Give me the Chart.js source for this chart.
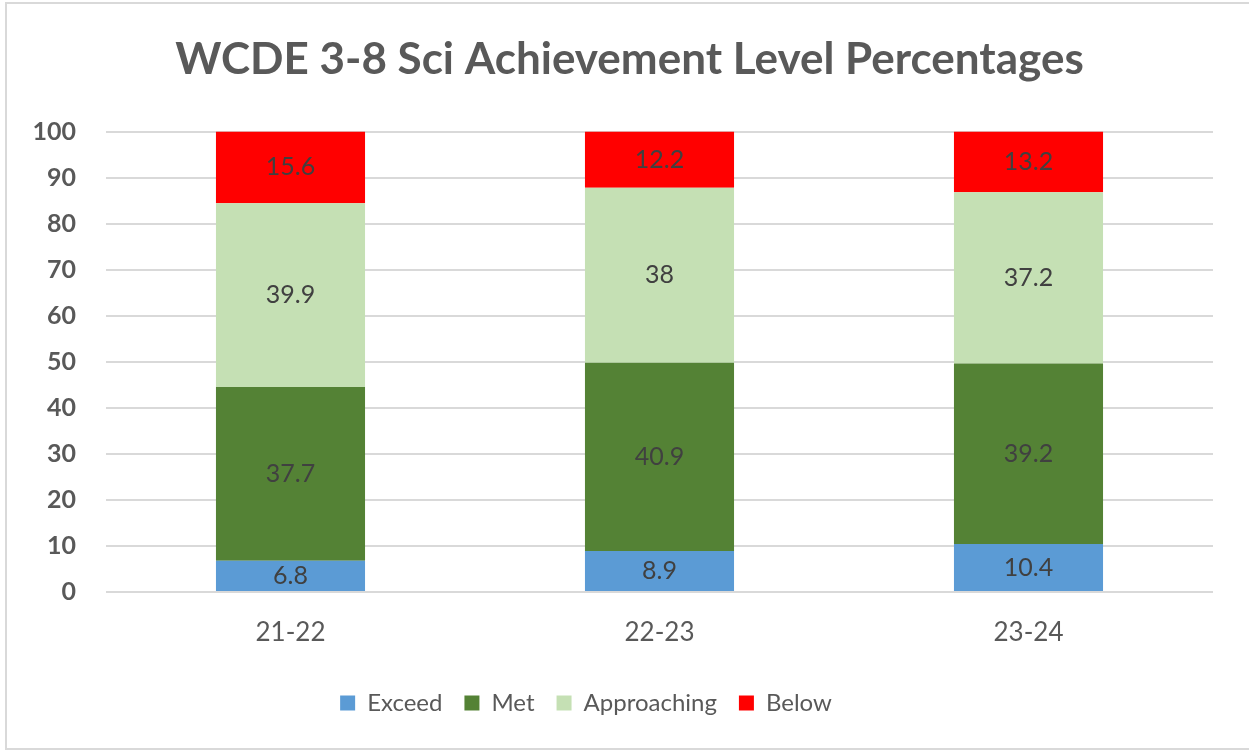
<!DOCTYPE html>
<html>
<head>
<meta charset="utf-8">
<script src="https://cdn.jsdelivr.net/npm/chart.js@4.4.1/dist/chart.umd.min.js"></script>
<style>
  html, body { margin: 0; padding: 0; background: #fff; }
  #frame { position: absolute; left: 5px; top: 2px; width: 1250px; height: 744px; border: 2px solid #d9d9d9; }
  #wrap { position: absolute; left: 0; top: 0; width: 1249px; height: 750px; }
</style>
</head>
<body>
<div id="frame"></div>
<div id="wrap"><canvas id="myChart"></canvas></div>
<script>
const years = ['21-22', '22-23', '23-24'];
const exceed = [6.8, 8.9, 10.4];
const met = [37.7, 40.9, 39.2];
const approaching = [39.9, 38, 37.2];
const below = [15.6, 12.2, 13.2];
const yTicks = [0, 10, 20, 30, 40, 50, 60, 70, 80, 90, 100];

const FONT = 'Lato, "Open Sans", sans-serif';
const TITLE = 'WCDE 3-8 Sci Achievement Level Percentages';

// pick the title size so it spans about as wide as the original
const mctx = document.createElement('canvas').getContext('2d');
mctx.font = 'bold 100px ' + FONT;
let titleSize = Math.round(100 * 903 / mctx.measureText(TITLE).width);
if (!isFinite(titleSize) || titleSize < 20) titleSize = 42;

// value in the middle of each bar segment
const segLabels = {
    id: 'segLabels',
    afterDatasetsDraw(chart){
        const ctx = chart.ctx;
        ctx.save();
        ctx.font = '25px ' + FONT;
        ctx.fillStyle = '#404040';
        ctx.textAlign = 'center';
        ctx.textBaseline = 'middle';
        chart.data.datasets.forEach((ds, i) => {
            const meta = chart.getDatasetMeta(i);
            meta.data.forEach((bar, j) => {
                ctx.fillText(String(ds.data[j]), bar.x, (bar.y + bar.base) / 2);
            });
        });
        ctx.restore();
    }
};

// title and legend are not centred on the same line in the original
const shiftBlocks = {
    id: 'shiftBlocks',
    afterLayout(chart){
        if (chart.titleBlock) chart.titleBlock.left = 46;
        if (chart.legend) { chart.legend.left = 0; chart.legend.right = 1172; }
    }
};

new Chart(document.getElementById('myChart'), {
    type: 'bar',
    data: {
        labels: years,
        datasets: [
            { label: 'Exceed', data: exceed, backgroundColor: '#5b9bd5' },
            { label: 'Met', data: met, backgroundColor: '#548235' },
            { label: 'Approaching', data: approaching, backgroundColor: '#c5e0b4' },
            { label: 'Below', data: below, backgroundColor: '#ff0000' }
        ]
    },
    options: {
        responsive: true,
        maintainAspectRatio: false,
        animation: false,
        barPercentage: 0.404,
        categoryPercentage: 1,
        layout: { padding: { left: 0, right: 36, top: 33, bottom: 25 } },
        plugins: {
            title: {
                display: true,
                text: TITLE,
                color: '#595959',
                font: { family: FONT, size: titleSize, weight: 'bold' },
                padding: { top: 0, bottom: 98.5 - titleSize * 1.2 }
            },
            legend: {
                position: 'bottom',
                labels: {
                    color: '#595959',
                    font: { family: FONT, size: 24 },
                    boxWidth: 15,
                    boxHeight: 15,
                    padding: 22
                }
            },
            tooltip: { enabled: false }
        },
        scales: {
            x: {
                stacked: true,
                grid: { display: false },
                border: { display: false },
                ticks: { color: '#595959', font: { family: FONT, size: 26 }, padding: 17 },
                afterFit(axis){ axis.height = 77; }
            },
            y: {
                stacked: true,
                min: 0,
                max: 100,
                afterBuildTicks(axis){ axis.ticks = yTicks.map(v => ({ value: v })); },
                afterFit(axis){ axis.width = 106; },
                grid: { color: '#d9d9d9', lineWidth: 2, drawTicks: false },
                border: { display: false },
                ticks: { color: '#595959', font: { family: FONT, size: 25, weight: 'bold' }, padding: 30 }
            }
        }
    },
    plugins: [segLabels, shiftBlocks]
});
</script>
</body>
</html>
